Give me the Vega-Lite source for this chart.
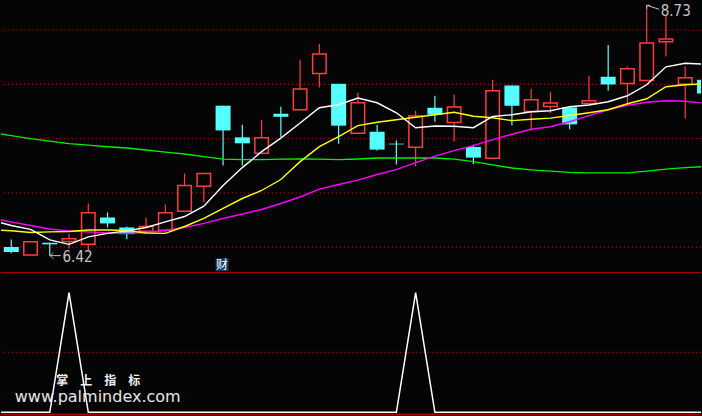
{
  "$schema": "https://vega.github.io/schema/vega-lite/v6.json",
  "width": 702,
  "height": 416,
  "autosize": {"type": "fit", "contains": "padding"},
  "padding": 0,
  "background": "#050505",
  "config": {"view": {"stroke": null}, "scale": {"continuousPadding": 0}},
  "datasets": {
    "candles": [
      {"i":1,"o":6.500,"h":6.571,"l":6.442,"c":6.454},
      {"i":2,"o":6.426,"h":6.549,"l":6.426,"c":6.549},
      {"i":3,"o":6.540,"h":6.540,"l":6.420,"c":6.525},
      {"i":4,"o":6.552,"h":6.623,"l":6.488,"c":6.577},
      {"i":5,"o":6.527,"h":6.902,"l":6.472,"c":6.816},
      {"i":6,"o":6.773,"h":6.819,"l":6.681,"c":6.718},
      {"i":7,"o":6.681,"h":6.690,"l":6.573,"c":6.619},
      {"i":8,"o":6.647,"h":6.773,"l":6.635,"c":6.690},
      {"i":9,"o":6.656,"h":6.893,"l":6.635,"c":6.816},
      {"i":10,"o":6.831,"h":7.178,"l":6.831,"c":7.068},
      {"i":11,"o":7.061,"h":7.184,"l":6.914,"c":7.178},
      {"i":12,"o":7.804,"h":7.804,"l":7.252,"c":7.576},
      {"i":13,"o":7.512,"h":7.629,"l":7.252,"c":7.457},
      {"i":14,"o":7.365,"h":7.675,"l":7.365,"c":7.509},
      {"i":15,"o":7.730,"h":7.795,"l":7.512,"c":7.702},
      {"i":16,"o":7.767,"h":8.227,"l":7.760,"c":7.957},
      {"i":17,"o":8.101,"h":8.374,"l":7.972,"c":8.282},
      {"i":18,"o":8.006,"h":8.006,"l":7.454,"c":7.620},
      {"i":19,"o":7.549,"h":7.923,"l":7.549,"c":7.831},
      {"i":20,"o":7.564,"h":7.629,"l":7.390,"c":7.399},
      {"i":21,"o":7.454,"h":7.482,"l":7.261,"c":7.447},
      {"i":22,"o":7.420,"h":7.758,"l":7.245,"c":7.709},
      {"i":23,"o":7.785,"h":7.896,"l":7.656,"c":7.721},
      {"i":24,"o":7.650,"h":7.905,"l":7.475,"c":7.792},
      {"i":25,"o":7.424,"h":7.445,"l":7.264,"c":7.325},
      {"i":26,"o":7.319,"h":8.043,"l":7.319,"c":7.942},
      {"i":27,"o":7.991,"h":7.991,"l":7.622,"c":7.804},
      {"i":28,"o":7.751,"h":7.960,"l":7.576,"c":7.859},
      {"i":29,"o":7.797,"h":7.933,"l":7.737,"c":7.829},
      {"i":30,"o":7.788,"h":7.797,"l":7.586,"c":7.632},
      {"i":31,"o":7.825,"h":8.080,"l":7.825,"c":7.850},
      {"i":32,"o":8.071,"h":8.365,"l":7.942,"c":8.000},
      {"i":33,"o":8.009,"h":8.165,"l":7.804,"c":8.144},
      {"i":34,"o":8.037,"h":8.730,"l":8.037,"c":8.383},
      {"i":35,"o":8.395,"h":8.641,"l":8.257,"c":8.420},
      {"i":36,"o":8.003,"h":8.165,"l":7.687,"c":8.061},
      {"i":37,"o":8.043,"h":8.061,"l":7.896,"c":7.917}
    ],
    "ma": [
      {"i":0,"w":6.745,"y":6.658,"m":6.764,"g":7.555},
      {"i":1,"w":6.699,"y":6.651,"m":6.732,"g":7.528},
      {"i":2,"w":6.663,"y":6.635,"m":6.699,"g":7.500},
      {"i":3,"w":6.566,"y":6.640,"m":6.667,"g":7.477},
      {"i":4,"w":6.525,"y":6.644,"m":6.649,"g":7.454},
      {"i":5,"w":6.594,"y":6.658,"m":6.640,"g":7.440},
      {"i":6,"w":6.626,"y":6.658,"m":6.630,"g":7.426},
      {"i":7,"w":6.649,"y":6.653,"m":6.626,"g":7.414},
      {"i":8,"w":6.681,"y":6.630,"m":6.635,"g":7.396},
      {"i":9,"w":6.732,"y":6.626,"m":6.653,"g":7.376},
      {"i":10,"w":6.782,"y":6.690,"m":6.681,"g":7.359},
      {"i":11,"w":6.877,"y":6.764,"m":6.718,"g":7.334},
      {"i":12,"w":7.068,"y":6.856,"m":6.764,"g":7.311},
      {"i":13,"w":7.233,"y":6.948,"m":6.805,"g":7.307},
      {"i":14,"w":7.380,"y":7.022,"m":6.847,"g":7.307},
      {"i":15,"w":7.505,"y":7.123,"m":6.902,"g":7.311},
      {"i":16,"w":7.644,"y":7.288,"m":6.962,"g":7.313},
      {"i":17,"w":7.785,"y":7.426,"m":7.035,"g":7.311},
      {"i":18,"w":7.813,"y":7.518,"m":7.077,"g":7.307},
      {"i":19,"w":7.875,"y":7.620,"m":7.118,"g":7.313},
      {"i":20,"w":7.831,"y":7.652,"m":7.169,"g":7.322},
      {"i":21,"w":7.739,"y":7.675,"m":7.215,"g":7.322},
      {"i":22,"w":7.601,"y":7.698,"m":7.279,"g":7.322},
      {"i":23,"w":7.617,"y":7.721,"m":7.339,"g":7.322},
      {"i":24,"w":7.615,"y":7.744,"m":7.390,"g":7.311},
      {"i":25,"w":7.601,"y":7.707,"m":7.436,"g":7.288},
      {"i":26,"w":7.705,"y":7.693,"m":7.491,"g":7.258},
      {"i":27,"w":7.721,"y":7.666,"m":7.541,"g":7.229},
      {"i":28,"w":7.748,"y":7.679,"m":7.587,"g":7.212},
      {"i":29,"w":7.758,"y":7.689,"m":7.610,"g":7.201},
      {"i":30,"w":7.795,"y":7.714,"m":7.656,"g":7.189},
      {"i":31,"w":7.810,"y":7.739,"m":7.712,"g":7.184},
      {"i":32,"w":7.841,"y":7.767,"m":7.767,"g":7.184},
      {"i":33,"w":7.896,"y":7.822,"m":7.808,"g":7.184},
      {"i":34,"w":7.997,"y":7.868,"m":7.836,"g":7.201},
      {"i":35,"w":8.163,"y":7.979,"m":7.850,"g":7.219},
      {"i":36,"w":8.195,"y":7.997,"m":7.845,"g":7.233},
      {"i":37,"w":8.187,"y":8.006,"m":7.827,"g":7.242}
    ],
    "ind": [
      {"i":0,"v":0},{"i":1,"v":0},{"i":2,"v":0},{"i":3,"v":0},{"i":4,"v":100},
      {"i":5,"v":0},{"i":6,"v":0},{"i":7,"v":0},{"i":8,"v":0},{"i":9,"v":0},
      {"i":10,"v":0},{"i":11,"v":0},{"i":12,"v":0},{"i":13,"v":0},{"i":14,"v":0},
      {"i":15,"v":0},{"i":16,"v":0},{"i":17,"v":0},{"i":18,"v":0},{"i":19,"v":0},
      {"i":20,"v":0},{"i":21,"v":0},{"i":22,"v":100},{"i":23,"v":0},{"i":24,"v":0},
      {"i":25,"v":0},{"i":26,"v":0},{"i":27,"v":0},{"i":28,"v":0},{"i":29,"v":0},
      {"i":30,"v":0},{"i":31,"v":0},{"i":32,"v":0},{"i":33,"v":0},{"i":34,"v":0},
      {"i":35,"v":0},{"i":36,"v":0},{"i":37,"v":0}
    ]
  },
  "layer": [
    {
      "layer": [
        {
          "data": {"values": [{"p":6.5},{"p":7.0},{"p":7.5},{"p":8.0},{"p":8.5}]},
          "mark": {"type": "rule", "stroke": "#b00000", "strokeWidth": 1.2, "strokeDash": [1.2, 2.8]},
          "encoding": {
            "y": {"field": "p", "type": "quantitative", "scale": {"domain": [4.951, 8.7791], "nice": false, "zero": false, "padding": 0}, "axis": null}
          }
        },
        {
          "data": {"name": "candles"},
          "transform": [{"filter": "datum.c >= datum.o"}],
          "mark": {"type": "rule", "stroke": "#ff3c3c", "strokeWidth": 1.2, "clip": true},
          "encoding": {
            "x": {"field": "i", "type": "quantitative", "scale": {"domain": [0.4666, 36.82], "nice": false, "zero": false, "padding": 0}, "axis": null},
            "y": {"field": "l", "type": "quantitative", "scale": {"domain": [4.951, 8.7791], "nice": false, "zero": false, "padding": 0}, "axis": null},
            "y2": {"field": "h"}
          }
        },
        {
          "data": {"name": "candles"},
          "transform": [{"filter": "datum.c < datum.o"}],
          "mark": {"type": "rule", "stroke": "#55ffff", "strokeWidth": 1.2, "clip": true},
          "encoding": {
            "x": {"field": "i", "type": "quantitative", "scale": {"domain": [0.4666, 36.82], "nice": false, "zero": false, "padding": 0}, "axis": null},
            "y": {"field": "l", "type": "quantitative", "scale": {"domain": [4.951, 8.7791], "nice": false, "zero": false, "padding": 0}, "axis": null},
            "y2": {"field": "h"}
          }
        },
        {
          "data": {"name": "candles"},
          "transform": [{"filter": "datum.c >= datum.o"}],
          "mark": {"type": "bar", "fill": "#050505", "stroke": "#ff3c3c", "strokeWidth": 1.5, "size": 13.5, "clip": true},
          "encoding": {
            "x": {"field": "i", "type": "quantitative", "scale": {"domain": [0.4666, 36.82], "nice": false, "zero": false, "padding": 0}, "axis": null},
            "y": {"field": "o", "type": "quantitative", "scale": {"domain": [4.951, 8.7791], "nice": false, "zero": false, "padding": 0}, "axis": null},
            "y2": {"field": "c"}
          }
        },
        {
          "data": {"name": "candles"},
          "transform": [{"filter": "datum.c < datum.o"}],
          "mark": {"type": "bar", "fill": "#55ffff", "size": 15, "clip": true},
          "encoding": {
            "x": {"field": "i", "type": "quantitative", "scale": {"domain": [0.4666, 36.82], "nice": false, "zero": false, "padding": 0}, "axis": null},
            "y": {"field": "o", "type": "quantitative", "scale": {"domain": [4.951, 8.7791], "nice": false, "zero": false, "padding": 0}, "axis": null},
            "y2": {"field": "c"}
          }
        },
        {
          "data": {"name": "ma"},
          "mark": {"type": "line", "stroke": "#00f000", "strokeWidth": 1.4, "clip": true},
          "encoding": {
            "x": {"field": "i", "type": "quantitative", "scale": {"domain": [0.4666, 36.82], "nice": false, "zero": false, "padding": 0}, "axis": null},
            "y": {"field": "g", "type": "quantitative", "scale": {"domain": [4.951, 8.7791], "nice": false, "zero": false, "padding": 0}, "axis": null}
          }
        },
        {
          "data": {"name": "ma"},
          "mark": {"type": "line", "stroke": "#ff00ff", "strokeWidth": 1.4, "clip": true},
          "encoding": {
            "x": {"field": "i", "type": "quantitative", "scale": {"domain": [0.4666, 36.82], "nice": false, "zero": false, "padding": 0}, "axis": null},
            "y": {"field": "m", "type": "quantitative", "scale": {"domain": [4.951, 8.7791], "nice": false, "zero": false, "padding": 0}, "axis": null}
          }
        },
        {
          "data": {"name": "ma"},
          "mark": {"type": "line", "stroke": "#ffff00", "strokeWidth": 1.4, "clip": true},
          "encoding": {
            "x": {"field": "i", "type": "quantitative", "scale": {"domain": [0.4666, 36.82], "nice": false, "zero": false, "padding": 0}, "axis": null},
            "y": {"field": "y", "type": "quantitative", "scale": {"domain": [4.951, 8.7791], "nice": false, "zero": false, "padding": 0}, "axis": null}
          }
        },
        {
          "data": {"name": "ma"},
          "mark": {"type": "line", "stroke": "#ffffff", "strokeWidth": 1.4, "clip": true},
          "encoding": {
            "x": {"field": "i", "type": "quantitative", "scale": {"domain": [0.4666, 36.82], "nice": false, "zero": false, "padding": 0}, "axis": null},
            "y": {"field": "w", "type": "quantitative", "scale": {"domain": [4.951, 8.7791], "nice": false, "zero": false, "padding": 0}, "axis": null}
          }
        },
        {
          "data": {"values": [{"i": 11.95, "p": 6.336, "t": "财"}]},
          "mark": {"type": "point", "shape": "square", "size": 169, "filled": true, "fill": "#15386a", "opacity": 1, "strokeWidth": 0},
          "encoding": {
            "x": {"field": "i", "type": "quantitative", "scale": {"domain": [0.4666, 36.82], "nice": false, "zero": false, "padding": 0}, "axis": null},
            "y": {"field": "p", "type": "quantitative", "scale": {"domain": [4.951, 8.7791], "nice": false, "zero": false, "padding": 0}, "axis": null}
          }
        },
        {
          "data": {"values": [{"i": 11.95, "p": 6.336, "t": "财"}]},
          "mark": {"type": "text", "font": "Noto Sans CJK SC", "fontSize": 12, "fill": "#ffffff", "align": "center", "baseline": "middle"},
          "encoding": {
            "x": {"field": "i", "type": "quantitative", "scale": {"domain": [0.4666, 36.82], "nice": false, "zero": false, "padding": 0}, "axis": null},
            "y": {"field": "p", "type": "quantitative", "scale": {"domain": [4.951, 8.7791], "nice": false, "zero": false, "padding": 0}, "axis": null},
            "text": {"field": "t"}
          }
        },
        {
          "data": {"values": [{"i": 3.02, "p": 6.421, "i2": 3.574, "p2": 6.421}, {"i": 34.0, "p": 8.73, "i2": 34.647, "p2": 8.6935}]},
          "mark": {"type": "rule", "stroke": "#c0c0c0", "strokeWidth": 1},
          "encoding": {
            "x": {"field": "i", "type": "quantitative", "scale": {"domain": [0.4666, 36.82], "nice": false, "zero": false, "padding": 0}, "axis": null},
            "y": {"field": "p", "type": "quantitative", "scale": {"domain": [4.951, 8.7791], "nice": false, "zero": false, "padding": 0}, "axis": null},
            "x2": {"field": "i2"},
            "y2": {"field": "p2"}
          }
        },
        {
          "data": {"values": [{"i": 3.02, "p": 6.421}]},
          "mark": {"type": "point", "shape": "M0,0L1,-1M0,0L1,1", "size": 36, "stroke": "#c0c0c0", "strokeWidth": 1, "filled": false, "opacity": 1},
          "encoding": {
            "x": {"field": "i", "type": "quantitative", "scale": {"domain": [0.4666, 36.82], "nice": false, "zero": false, "padding": 0}, "axis": null},
            "y": {"field": "p", "type": "quantitative", "scale": {"domain": [4.951, 8.7791], "nice": false, "zero": false, "padding": 0}, "axis": null}
          }
        },
        {
          "data": {"values": [{"i": 34.0, "p": 8.73}]},
          "mark": {"type": "point", "shape": "M0,0L0,1M0,0L1,0", "size": 49, "stroke": "#c0c0c0", "strokeWidth": 1, "filled": false, "opacity": 1},
          "encoding": {
            "x": {"field": "i", "type": "quantitative", "scale": {"domain": [0.4666, 36.82], "nice": false, "zero": false, "padding": 0}, "axis": null},
            "y": {"field": "p", "type": "quantitative", "scale": {"domain": [4.951, 8.7791], "nice": false, "zero": false, "padding": 0}, "axis": null}
          }
        },
        {
          "data": {"values": [{"i": 3.662, "p": 6.412, "t": "6.42"}, {"i": 34.73, "p": 8.682, "t": "8.73"}]},
          "mark": {"type": "text", "font": "Liberation Sans Narrow, DejaVu Sans Condensed, Liberation Sans, sans-serif", "fontSize": 15, "fill": "#c4c4c4", "align": "left", "baseline": "middle"},
          "encoding": {
            "x": {"field": "i", "type": "quantitative", "scale": {"domain": [0.4666, 36.82], "nice": false, "zero": false, "padding": 0}, "axis": null},
            "y": {"field": "p", "type": "quantitative", "scale": {"domain": [4.951, 8.7791], "nice": false, "zero": false, "padding": 0}, "axis": null},
            "text": {"field": "t"}
          }
        }
      ]
    },
    {
      "layer": [
        {
          "data": {"values": [{"v": 50}]},
          "mark": {"type": "rule", "stroke": "#b00000", "strokeWidth": 1.2, "strokeDash": [1.2, 2.8]},
          "encoding": {
            "y": {"field": "v", "type": "quantitative", "scale": {"domain": [-2.25, 344.4], "nice": false, "zero": false, "padding": 0}, "axis": null}
          }
        },
        {
          "data": {"values": [{"v": 116.67}, {"v": -1.67}]},
          "mark": {"type": "rule", "stroke": "#a80000", "strokeWidth": 1.4},
          "encoding": {
            "y": {"field": "v", "type": "quantitative", "scale": {"domain": [-2.25, 344.4], "nice": false, "zero": false, "padding": 0}, "axis": null}
          }
        },
        {
          "data": {"name": "ind"},
          "mark": {"type": "line", "stroke": "#ffffff", "strokeWidth": 1.5, "clip": true},
          "encoding": {
            "x": {"field": "i", "type": "quantitative", "scale": {"domain": [0.4666, 36.82], "nice": false, "zero": false, "padding": 0}, "axis": null},
            "y": {"field": "v", "type": "quantitative", "scale": {"domain": [-2.25, 344.4], "nice": false, "zero": false, "padding": 0}, "axis": null}
          }
        },
        {
          "data": {"values": [{"i": 5.52, "v": 26.5, "t": "掌　上　指　标"}]},
          "mark": {"type": "text", "font": "Noto Sans CJK SC", "fontWeight": "bold", "fontSize": 12, "fill": "#f0f0f0", "align": "center", "baseline": "middle"},
          "encoding": {
            "x": {"field": "i", "type": "quantitative", "scale": {"domain": [0.4666, 36.82], "nice": false, "zero": false, "padding": 0}, "axis": null},
            "y": {"field": "v", "type": "quantitative", "scale": {"domain": [-2.25, 344.4], "nice": false, "zero": false, "padding": 0}, "axis": null},
            "text": {"field": "t"}
          }
        },
        {
          "data": {"values": [{"i": 5.49, "v": 12.6, "t": "www.palmindex.com"}]},
          "mark": {"type": "text", "font": "DejaVu Sans", "fontSize": 16, "fill": "#e6e6e6", "align": "center", "baseline": "middle"},
          "encoding": {
            "x": {"field": "i", "type": "quantitative", "scale": {"domain": [0.4666, 36.82], "nice": false, "zero": false, "padding": 0}, "axis": null},
            "y": {"field": "v", "type": "quantitative", "scale": {"domain": [-2.25, 344.4], "nice": false, "zero": false, "padding": 0}, "axis": null},
            "text": {"field": "t"}
          }
        }
      ]
    }
  ],
  "resolve": {"scale": {"y": "independent"}}
}
